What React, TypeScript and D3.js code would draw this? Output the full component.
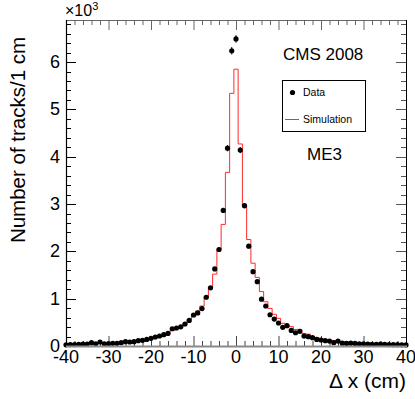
import React, { useEffect, useRef } from "react";
import * as d3 from "d3";

// bin centres in cm (1 cm bins)
const bins: number[] = d3.range(-40, 41);

const dataCounts: number[] = [
  25, 30, 30, 35, 40, 40, 70, 45, 85, 45,
  50, 56, 56, 70, 92, 85, 92, 112, 120, 140,
  162, 190, 211, 240, 265, 365, 380, 405, 465, 540,
  655, 700, 790, 1030, 1230, 1630, 2040, 2865, 4180, 6240,
  6490,
  4140, 2965, 2110, 1570, 1360, 990, 845, 660, 570, 486,
  395, 430, 330, 280, 310, 210, 197, 175, 140, 127,
  112, 105, 70, 105, 60, 55, 60, 55, 45, 45,
  40, 35, 35, 40, 35, 30, 28, 28, 25, 22,
];

const simCounts: number[] = [
  45, 45, 48, 50, 52, 55, 58, 60, 62, 65,
  68, 70, 75, 80, 85, 92, 100, 110, 120, 135,
  150, 170, 195, 225, 265, 330, 375, 400, 470, 560,
  620, 740, 845, 1040, 1240, 1520, 2040, 2570, 3670, 5340,
  5850,
  4270, 2960, 2250, 1750, 1450, 1150, 935, 795, 670, 585,
  480, 430, 410, 350, 350, 265, 250, 200, 180, 160,
  140, 125, 115, 100, 90, 85, 75, 70, 65, 60,
  58, 55, 52, 50, 48, 45, 42, 40, 38, 35,
];

const xTicks: number[] = [-40, -30, -20, -10, 0, 10, 20, 30, 40];
const yTicks: number[] = [0, 1000, 2000, 3000, 4000, 5000, 6000];

const FONT = "'Liberation Sans', Arial, Helvetica, sans-serif";

export default function App() {
  const svgRef = useRef<SVGSVGElement>(null);

  useEffect(() => {
    const W = 415;
    const H = 399;
    const M = { left: 66, right: 406, top: 20, bottom: 346 };

    const svg = d3.select(svgRef.current);
    svg.selectAll("*").remove();
    svg.attr("width", W).attr("height", H);

    const x = d3.scaleLinear().domain([-40, 40]).range([M.left, M.right]);
    const y = d3.scaleLinear().domain([0, 6890]).range([M.bottom, M.top]);

    svg.append("rect").attr("width", W).attr("height", H).attr("fill", "#fff");

    svg
      .append("clipPath")
      .attr("id", "frame")
      .append("rect")
      .attr("x", M.left)
      .attr("y", M.top)
      .attr("width", M.right - M.left)
      .attr("height", M.bottom - M.top);

    // simulation histogram outline
    const steps: [number, number][] = bins.map((b, i) => [b - 0.5, simCounts[i]]);
    steps.unshift([-40.5, 0]);
    steps.push([40.5, simCounts[simCounts.length - 1]]);
    const stepLine = d3
      .line<[number, number]>()
      .x((d) => x(d[0]))
      .y((d) => y(d[1]))
      .curve(d3.curveStepAfter);
    svg
      .append("path")
      .attr("clip-path", "url(#frame)")
      .attr("d", stepLine(steps))
      .attr("fill", "none")
      .attr("stroke", "#ff2a2a")
      .attr("stroke-width", 1);

    // frame + axes
    const minorX = d3.range(-40, 41, 2);
    const minorY = d3.range(0, 6890, 200);
    const tick = "#444";

    svg
      .append("g")
      .selectAll("line.bx")
      .data(minorX)
      .join("line")
      .attr("x1", (d) => x(d) + 0.5)
      .attr("x2", (d) => x(d) + 0.5)
      .attr("y1", M.bottom)
      .attr("y2", (d) => M.bottom - (d % 10 === 0 ? 10 : 5))
      .attr("stroke", tick);
    svg
      .append("g")
      .selectAll("line.tx")
      .data(minorX)
      .join("line")
      .attr("x1", (d) => x(d) + 0.5)
      .attr("x2", (d) => x(d) + 0.5)
      .attr("y1", M.top)
      .attr("y2", (d) => M.top + (d % 10 === 0 ? 10 : 5))
      .attr("stroke", "#666");
    svg
      .append("g")
      .selectAll("line")
      .data(minorY)
      .join("line")
      .attr("x1", M.left)
      .attr("x2", (d) => M.left + (d % 1000 === 0 ? 10 : 5))
      .attr("y1", (d) => Math.round(y(d)) + 0.5)
      .attr("y2", (d) => Math.round(y(d)) + 0.5)
      .attr("stroke", "#000");
    svg
      .append("g")
      .selectAll("line")
      .data(minorY)
      .join("line")
      .attr("x1", M.right)
      .attr("x2", (d) => M.right - (d % 1000 === 0 ? 10 : 5))
      .attr("y1", (d) => Math.round(y(d)) + 0.5)
      .attr("y2", (d) => Math.round(y(d)) + 0.5)
      .attr("stroke", "#555");

    svg.append("line").attr("x1", M.left).attr("x2", M.right).attr("y1", M.top + 0.5).attr("y2", M.top + 0.5).attr("stroke", "#666");
    svg.append("line").attr("x1", M.right + 0.5).attr("x2", M.right + 0.5).attr("y1", M.top).attr("y2", M.bottom).attr("stroke", "#000");
    svg.append("line").attr("x1", M.left + 0.5).attr("x2", M.left + 0.5).attr("y1", M.top).attr("y2", M.bottom).attr("stroke", "#000").attr("stroke-width", 1.2);

    // data points with error bars
    const pts = svg.append("g");
    pts
      .selectAll("line")
      .data(bins)
      .join("line")
      .attr("x1", (d) => x(d))
      .attr("x2", (d) => x(d))
      .attr("y1", (d, i) => y(dataCounts[i] + Math.sqrt(dataCounts[i])))
      .attr("y2", (d, i) => y(Math.max(0, dataCounts[i] - Math.sqrt(dataCounts[i]))))
      .attr("stroke", "#000");
    pts
      .selectAll("circle")
      .data(bins)
      .join("circle")
      .attr("cx", (d) => x(d))
      .attr("cy", (d, i) => y(dataCounts[i]))
      .attr("r", 2.6)
      .attr("fill", "#000");

    svg.append("line").attr("x1", M.left).attr("x2", M.right + 1).attr("y1", M.bottom + 0.5).attr("y2", M.bottom + 0.5).attr("stroke", "#8a8a8a").attr("stroke-width", 2);

    // tick labels
    svg
      .append("g")
      .selectAll("text")
      .data(xTicks)
      .join("text")
      .attr("x", (d) => x(d))
      .attr("y", 363)
      .attr("text-anchor", "middle")
      .attr("font-family", FONT)
      .attr("font-size", 18)
      .text((d) => (d < 0 ? "-" + Math.abs(d) : String(d)));
    svg
      .append("g")
      .selectAll("text")
      .data(yTicks)
      .join("text")
      .attr("x", 60)
      .attr("y", (d) => y(d) + 6)
      .attr("text-anchor", "end")
      .attr("font-family", FONT)
      .attr("font-size", 18)
      .text((d) => String(d / 1000));

    const exp = svg.append("text").attr("x", 65).attr("y", 16).attr("font-family", FONT).attr("font-size", 16);
    exp.append("tspan").text("×10");
    exp.append("tspan").attr("font-size", 11).attr("dy", -6).text("3");

    // axis titles
    svg
      .append("text")
      .attr("transform", "translate(25,140) rotate(-90)")
      .attr("text-anchor", "middle")
      .attr("font-family", FONT)
      .attr("font-size", 20.5)
      .text("Number of tracks/1 cm");
    svg
      .append("text")
      .attr("x", 406)
      .attr("y", 388)
      .attr("text-anchor", "end")
      .attr("font-family", FONT)
      .attr("font-size", 21)
      .text("Δ x (cm)");

    // annotations
    svg.append("text").attr("x", 283).attr("y", 60).attr("font-family", FONT).attr("font-size", 17).text("CMS 2008");
    svg.append("text").attr("x", 307).attr("y", 160).attr("font-family", FONT).attr("font-size", 17).text("ME3");

    // legend
    const lg = svg.append("g");
    lg.append("rect").attr("x", 282.5).attr("y", 80.5).attr("width", 83).attr("height", 51).attr("fill", "#fff").attr("stroke", "#000");
    lg.append("circle").attr("cx", 292.5).attr("cy", 92.5).attr("r", 2.6).attr("fill", "#000");
    lg.append("text").attr("x", 303).attr("y", 96).attr("font-family", FONT).attr("font-size", 10.5).text("Data");
    lg.append("line").attr("x1", 285).attr("x2", 299).attr("y1", 119.5).attr("y2", 119.5).attr("stroke", "#ff2a2a");
    lg.append("text").attr("x", 303).attr("y", 123).attr("font-family", FONT).attr("font-size", 10.5).text("Simulation");
  }, []);

  return (
    <div style={{ position: "absolute", left: 0, top: 0 }}>
      <svg ref={svgRef} style={{ display: "block" }}></svg>
    </div>
  );
}
